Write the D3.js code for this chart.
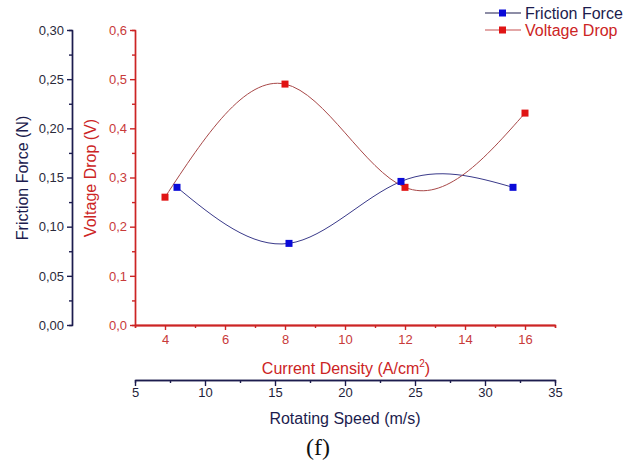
<!DOCTYPE html>
<html>
<head>
<meta charset="utf-8">
<script src="https://cdn.jsdelivr.net/npm/d3@7"></script>
<style>
  body { margin: 0; background: #fff; }
  svg { display: block; font-family: "Liberation Sans", Arial, sans-serif; }
</style>
</head>
<body>
<svg id="chart" width="631" height="464"></svg>
<script>
// values
const currentDensity = [4, 8, 12, 16];
const voltageDrop = [0.260, 0.490, 0.280, 0.431];
const rotatingSpeed = [8, 16, 24, 32];
const frictionForce = [0.140, 0.083, 0.146, 0.140];

const frictionTicks = [0, 0.05, 0.10, 0.15, 0.20, 0.25, 0.30];
const voltageTicks = [0, 0.1, 0.2, 0.3, 0.4, 0.5, 0.6];
const currentTicks = [4, 6, 8, 10, 12, 14, 16];
const speedTicks = [5, 10, 15, 20, 25, 30, 35];

const navy = '#1c1c4e';
const red = '#cc2424';
const blueMark = '#0a0ad8';
const redMark = '#e01414';

const svg = d3.select('#chart');
const comma = f => d => d3.format(f)(d).replace('.', ',');

const xCur = d3.scaleLinear().domain([3, 17]).range([135, 555]);
const xSpd = d3.scaleLinear().domain([5, 35]).range([135, 555]);
const yF = d3.scaleLinear().domain([0, 0.3]).range([325, 30]);
const yV = d3.scaleLinear().domain([0, 0.6]).range([325, 30]);

function styleAxis(g, color, labelColor) {
  g.selectAll('.domain').attr('stroke', color).attr('stroke-width', 1.4);
  g.selectAll('.tick line').attr('stroke', color).attr('stroke-width', 1.4);
  g.selectAll('.tick text').attr('fill', labelColor).attr('font-size', 13);
}

// minor ticks first, major axes drawn over them
svg.append('g')
    .attr('transform', 'translate(72,0)')
    .call(d3.axisLeft(yF).tickValues(d3.range(0.025, 0.3, 0.05)).tickSize(3).tickFormat(''))
    .call(g => styleAxis(g, navy, navy));
svg.append('g')
    .attr('transform', 'translate(72,0)')
    .call(d3.axisLeft(yF).tickValues(frictionTicks).tickSize(5).tickPadding(3)
      .tickFormat(comma('.2f')).tickSizeOuter(0))
    .call(g => styleAxis(g, navy, '#2a2a3a'));

svg.append('g')
    .attr('transform', 'translate(135,0)')
    .call(d3.axisLeft(yV).tickValues(d3.range(0.05, 0.6, 0.1)).tickSize(3).tickFormat(''))
    .call(g => styleAxis(g, red, red));
svg.append('g')
    .attr('transform', 'translate(135,0)')
    .call(d3.axisLeft(yV).tickValues(voltageTicks).tickSize(5).tickPadding(3)
      .tickFormat(comma('.1f')).tickSizeOuter(0))
    .call(g => styleAxis(g, red, '#c83a3a'));

svg.append('g')
    .attr('transform', 'translate(0,325)')
    .call(d3.axisBottom(xCur).tickValues([3, 5, 7, 9, 11, 13, 15, 17]).tickSize(3).tickFormat(''))
    .call(g => styleAxis(g, red, red));
svg.append('g')
    .attr('transform', 'translate(0,325)')
    .call(d3.axisBottom(xCur).tickValues(currentTicks).tickSize(5).tickPadding(5).tickSizeOuter(0))
    .call(g => styleAxis(g, red, '#c83a3a'))
    .call(g => g.select('.domain').attr('stroke-width', 2));

svg.append('g')
    .attr('transform', 'translate(0,380)')
    .call(d3.axisBottom(xSpd).tickValues(d3.range(7.5, 35, 5)).tickSize(3).tickFormat(''))
    .call(g => styleAxis(g, navy, navy));
svg.append('g')
    .attr('transform', 'translate(0,380)')
    .call(d3.axisBottom(xSpd).tickValues(speedTicks).tickSize(6).tickPadding(2).tickSizeOuter(0))
    .call(g => styleAxis(g, navy, '#1e1e3a'));

// axis titles
svg.append('text')
    .attr('transform', 'translate(28,178) rotate(-90)')
    .attr('text-anchor', 'middle')
    .attr('font-size', 16)
    .attr('fill', navy)
    .text('Friction Force (N)');
svg.append('text')
    .attr('transform', 'translate(96,178) rotate(-90)')
    .attr('text-anchor', 'middle')
    .attr('font-size', 16)
    .attr('fill', red)
    .text('Voltage Drop (V)');
const cdTitle = svg.append('text')
    .attr('x', 346).attr('y', 374)
    .attr('text-anchor', 'middle')
    .attr('font-size', 16)
    .attr('fill', red);
cdTitle.append('tspan').text('Current Density (A/cm');
cdTitle.append('tspan').attr('font-size', 10).attr('dy', -7).text('2');
cdTitle.append('tspan').attr('dy', 7).text(')');
svg.append('text')
    .attr('x', 345).attr('y', 424)
    .attr('text-anchor', 'middle')
    .attr('font-size', 16)
    .attr('fill', navy)
    .text('Rotating Speed (m/s)');
svg.append('text')
    .attr('x', 318).attr('y', 455)
    .attr('text-anchor', 'middle')
    .attr('font-family', '"Liberation Serif", "DejaVu Serif", serif')
    .attr('font-size', 24)
    .attr('fill', '#111')
    .text('(f)');

// curves
const voltage = currentDensity.map((c, i) => [c, voltageDrop[i]]);
const friction = rotatingSpeed.map((s, i) => [s, frictionForce[i]]);

const line = (x, y) => d3.line().x(d => x(d[0])).y(d => y(d[1])).curve(d3.curveNatural);

svg.append('path')
    .attr('d', line(xSpd, yF)(friction))
    .attr('fill', 'none')
    .attr('stroke', '#3a3a8a')
    .attr('stroke-width', 1);
svg.append('path')
    .attr('d', line(xCur, yV)(voltage))
    .attr('fill', 'none')
    .attr('stroke', '#a84848')
    .attr('stroke-width', 1);

const s = 7;
svg.append('g').selectAll('rect')
  .data(voltage)
  .join('rect')
    .attr('x', d => xCur(d[0]) - s / 2)
    .attr('y', d => yV(d[1]) - s / 2)
    .attr('width', s).attr('height', s)
    .attr('fill', redMark);
svg.append('g').selectAll('rect')
  .data(friction)
  .join('rect')
    .attr('x', d => xSpd(d[0]) - s / 2)
    .attr('y', d => yF(d[1]) - s / 2)
    .attr('width', s).attr('height', s)
    .attr('fill', blueMark);

// legend
const legend = [
  {name: 'Friction Force', line: navy, mark: blueMark, text: navy},
  {name: 'Voltage Drop', line: '#c85050', mark: redMark, text: red}
];
const lg = svg.append('g').selectAll('g')
  .data(legend)
  .join('g')
    .attr('transform', (d, i) => `translate(485,${13 + i * 17})`);
lg.append('line')
    .attr('x1', 0).attr('x2', 36)
    .attr('stroke', d => d.line).attr('stroke-width', 1.2);
lg.append('rect')
    .attr('x', 14).attr('y', -3.5).attr('width', 7).attr('height', 7)
    .attr('fill', d => d.mark);
lg.append('text')
    .attr('x', 40).attr('y', 5.5)
    .attr('font-size', 16)
    .attr('fill', d => d.text)
    .text(d => d.name);
</script>
</body>
</html>
